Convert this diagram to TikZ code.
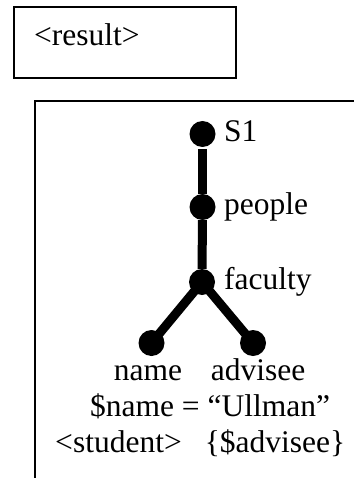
\documentclass[tikz,border=0pt]{standalone}
\usepackage{fontspec}
\setmainfont{Liberation Serif}
\begin{document}
\begin{tikzpicture}[x=1pt,y=-1pt,
  frame/.style={line width=2pt},
  vertex/.style={circle,fill=black,inner sep=0pt,minimum size=26pt},
  edge/.style={line width=9pt},
  txt/.style={inner sep=0pt,font=\fontsize{31.5}{36}\selectfont},
]
\useasboundingbox (0,0) rectangle (353,481);

% result box
\draw[frame] (14,7) rectangle (236,78);
\node[txt,anchor=base west] (result) at (34,46) {<result>};

% query frame (open at right and bottom)
\coordinate (tr) at (355,101.5);
\coordinate (tl) at (35,101.5);
\coordinate (bl) at (35,478);
\draw[frame] (tr) -- (tl) -- (bl);

% tree
\node[vertex] (s1) at (202.5,134) {};
\node[vertex] (people) at (202.5,207) {};
\node[vertex] (faculty) at (202,282) {};
\node[vertex] (name) at (151.5,343) {};
\node[vertex] (advisee) at (253,343) {};

\draw[edge] (s1.south) ++(0,2) -- (people);
\draw[edge] (people) -- (faculty);
\draw[edge] (faculty.center) -- (name.center);
\draw[edge] (faculty.center) -- (advisee.center);

% labels
\node[txt,anchor=base west] (ls1) at (224,142) {S1};
\node[txt,anchor=base west] (lpeople) at (224,214) {people};
\node[txt,anchor=base west] (lfaculty) at (224,289) {faculty};
\node[txt,anchor=base] (lname) at (148,380) {name};
\node[txt,anchor=base] (ladvisee) at (258,380) {advisee};
\node[txt,anchor=base] (cond) at (210,416) {\$name = “Ullman”};
\node[txt,anchor=base] (student) at (118.5,452) {<student>};
\node[txt,anchor=base] (adv) at (275,452) {\{\$advisee\}};
\end{tikzpicture}
\end{document}
